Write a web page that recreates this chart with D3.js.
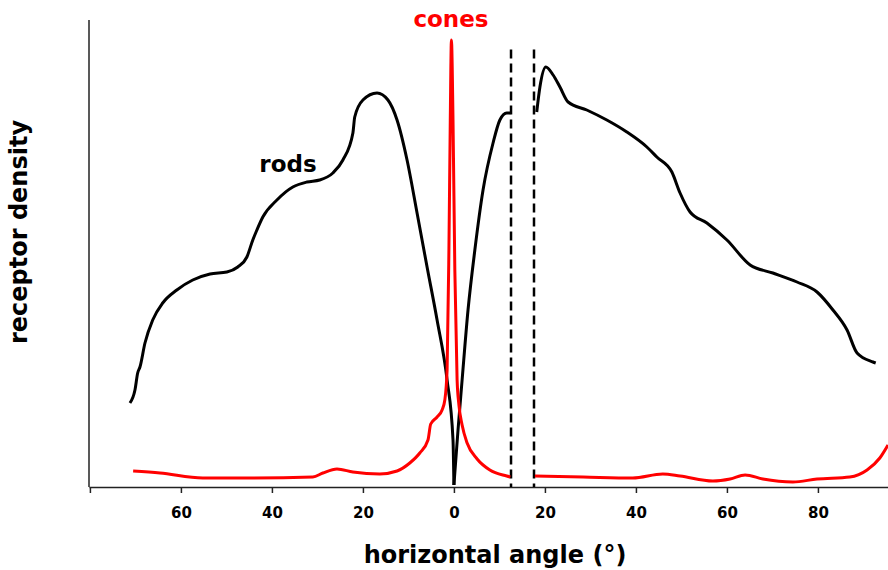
<!DOCTYPE html>
<html>
<head>
<meta charset="utf-8">
<script src="https://cdn.jsdelivr.net/npm/d3@7"></script>
<style>
  html, body { margin: 0; padding: 0; background: #fff; }
  svg { display: block; font-family: "DejaVu Sans", sans-serif; font-weight: bold; }
</style>
</head>
<body>
<svg id="chart" width="888" height="570"></svg>
<script>
// Horizontal angle (deg, negative = temporal side) and density (thousands / mm²)
const rodsTemporalAngle = [-71.2, -70.1, -69.5, -69.0, -67.9, -66.2, -64.0, -60.9, -57.4, -53.6, -49.9, -47.5, -45.5, -44.2, -43.3, -42.0, -38.9, -35.4, -32.3, -29.5, -26.6, -24.4, -22.2, -21.8, -20.0, -16.9, -14.5, -12.5, -10.3, -8.1, -5.9, -3.7, -1.5, -0.2, 0.0];
const rodsTemporalValue = [33.6, 38.8, 45.6, 48.0, 57.6, 66.8, 73.6, 78.8, 82.8, 85.2, 86.0, 88.0, 92.0, 98.8, 102.8, 108.0, 114.8, 120.0, 122.0, 122.8, 125.6, 130.8, 141.6, 148.0, 154.8, 157.6, 154.8, 146.8, 130.8, 109.6, 88.0, 66.8, 42.8, 18.8, 0.8];

const rodsNasalAngle = [0.0, 0.9, 1.8, 3.1, 4.6, 6.4, 8.6, 10.1, 11.6, 12.4];
const rodsNasalValue = [0.8, 22.8, 42.8, 70.8, 94.8, 118.8, 137.6, 146.8, 149.6, 149.6];

const rodsPeripheryAngle = [18.2, 18.9, 20.2, 21.8, 23.3, 25.1, 29.2, 33.6, 38.0, 42.4, 44.6, 47.9, 49.7, 51.9, 55.6, 60.0, 65.1, 70.1, 75.4, 79.8, 83.3, 86.4, 88.6, 92.1, 92.7];
const rodsPeripheryValue = [150.0, 160.0, 168.0, 164.8, 160.0, 154.0, 150.8, 146.8, 142.0, 136.0, 132.0, 126.0, 117.6, 110.0, 105.6, 98.8, 88.8, 85.6, 82.0, 78.0, 70.8, 62.8, 53.6, 50.0, 49.6];

const conesCentralAngle = [-70.5, -64.6, -55.2, -44.2, -31.0, -28.8, -25.7, -22.2, -16.3, -12.5, -9.7, -7.5, -5.7, -5.1, -3.7, -2.6, -2.0, -1.5, -1.1, -0.8, -0.55, -0.2, 0.2, 0.7, 1.1, 1.8, 2.9, 5.1, 7.9, 11.6, 12.4];
const conesCentralValue = [6.4, 5.6, 3.6, 3.6, 4.0, 5.6, 7.2, 6.0, 5.2, 6.4, 9.6, 13.6, 18.8, 25.2, 28.0, 30.8, 34.8, 46.8, 94.8, 146.8, 178.8, 146.8, 86.8, 42.8, 32.8, 24.8, 17.6, 11.2, 6.8, 4.4, 4.0];

const conesPeripheryAngle = [17.8, 28.4, 39.3, 45.9, 49.7, 56.9, 60.7, 64.0, 67.9, 74.5, 79.8, 87.0, 90.8, 93.6, 95.4];
const conesPeripheryValue = [4.4, 4.0, 3.6, 5.2, 4.4, 2.4, 3.2, 4.8, 3.2, 2.0, 3.2, 4.0, 6.8, 11.6, 16.8];

// Edges of the blind spot (optic disc)
const blindSpotEdges = [12.55, 17.6];
const blindSpotTop = 175;

const tickValues = [-80, -60, -40, -20, 0, 20, 40, 60, 80];
const unlabeledTicks = [-80];

const svg = d3.select("#chart");

const x = d3.scaleLinear().domain([-80.2, 95.4]).range([89, 888]);
const y = d3.scaleLinear().domain([0, 186.8]).range([487, 20]);

const zip = (a, v) => a.map((d, i) => ({ a: d, v: v[i] }));

const line = d3.line()
  .x(d => x(d.a))
  .y(d => y(d.v))
  .curve(d3.curveMonotoneX);

// Axes: left spine and bottom axis with absolute-angle labels
svg.append("line")
  .attr("x1", x(-80.2)).attr("x2", x(-80.2))
  .attr("y1", y(186.8)).attr("y2", y(0))
  .attr("stroke", "#222").attr("stroke-width", 1.5);

const xAxis = d3.axisBottom(x)
  .tickValues(tickValues)
  .tickSize(6)
  .tickSizeOuter(0)
  .tickPadding(14)
  .tickFormat(d => unlabeledTicks.includes(d) ? "" : Math.abs(d));

const gx = svg.append("g")
  .attr("transform", `translate(0,${y(0)})`)
  .call(xAxis);
gx.select(".domain").attr("stroke", "#222").attr("stroke-width", 1.5);
gx.selectAll(".tick line").attr("stroke", "#222").attr("stroke-width", 1.5);
gx.selectAll(".tick text")
  .attr("fill", "#000")
  .style("font-family", "'DejaVu Sans', sans-serif")
  .style("font-weight", "bold")
  .style("font-size", "15px");

// Blind spot markers
svg.selectAll(".blind")
  .data(blindSpotEdges)
  .join("line")
  .attr("class", "blind")
  .attr("x1", d => x(d)).attr("x2", d => x(d))
  .attr("y1", y(blindSpotTop)).attr("y2", y(0))
  .attr("stroke", "#000")
  .attr("stroke-width", 2.5)
  .attr("stroke-dasharray", "9,5");

// Rod density
[zip(rodsTemporalAngle, rodsTemporalValue),
 zip(rodsNasalAngle, rodsNasalValue),
 zip(rodsPeripheryAngle, rodsPeripheryValue)].forEach(seg => {
  svg.append("path")
    .datum(seg)
    .attr("d", line)
    .attr("fill", "none")
    .attr("stroke", "#000")
    .attr("stroke-width", 3)
    .attr("stroke-linejoin", "round");
});

// Cone density
[zip(conesCentralAngle, conesCentralValue),
 zip(conesPeripheryAngle, conesPeripheryValue)].forEach(seg => {
  svg.append("path")
    .datum(seg)
    .attr("d", line)
    .attr("fill", "none")
    .attr("stroke", "#ff0000")
    .attr("stroke-width", 3)
    .attr("stroke-linejoin", "round");
});

// Labels
svg.append("text")
  .attr("x", 451).attr("y", 27)
  .attr("text-anchor", "middle")
  .attr("fill", "#ff0000")
  .style("font-size", "23px")
  .text("cones");

svg.append("text")
  .attr("x", 288).attr("y", 172)
  .attr("text-anchor", "middle")
  .attr("fill", "#000")
  .style("font-size", "23px")
  .text("rods");

svg.append("text")
  .attr("x", 495).attr("y", 563)
  .attr("text-anchor", "middle")
  .attr("fill", "#000")
  .style("font-size", "24px")
  .text("horizontal angle (°)");

svg.append("text")
  .attr("transform", "translate(27,232) rotate(-90)")
  .attr("text-anchor", "middle")
  .attr("fill", "#000")
  .style("font-size", "24px")
  .text("receptor density");
</script>
</body>
</html>
